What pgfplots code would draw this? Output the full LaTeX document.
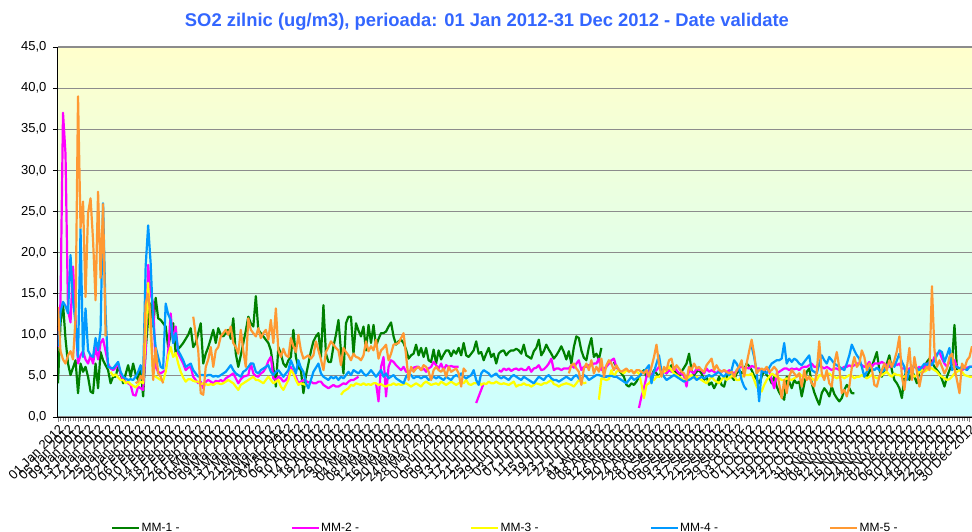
\documentclass[border=0pt]{standalone}
\usepackage{pgfplots}
\usepackage{pgfplotstable}
\pgfplotsset{compat=1.18}
\usepackage{fontspec}
\setmainfont{Liberation Sans}
\definecolor{cG}{RGB}{0,128,0}
\definecolor{cM}{RGB}{255,0,255}
\definecolor{cY}{RGB}{255,255,0}
\definecolor{cB}{RGB}{0,153,255}
\definecolor{cO}{RGB}{255,153,51}
\definecolor{ttl}{RGB}{51,102,255}
\definecolor{bgtop}{RGB}{255,255,204}
\definecolor{bgmid}{RGB}{228,255,228}
\definecolor{bgbot}{RGB}{204,255,255}
\definecolor{gridc}{RGB}{140,140,140}
\pgfplotstableread{
d g m y b o
0 4.1 8.5 nan 8.6 13.4
1 11.4 14.0 nan 12.8 8.0
2 13.8 37.0 nan 14.0 7.0
3 9.5 32.0 nan 13.5 6.5
4 6.5 13.0 nan 12.6 7.5
5 5.1 11.5 nan 19.7 8.0
6 6.0 18.3 nan 14.2 7.0
7 6.9 12.0 nan 11.4 12.0
8 2.9 6.5 nan 7.3 39.0
9 6.5 7.5 nan 22.9 23.0
10 5.5 8.0 nan 7.3 26.2
11 6.1 7.0 nan 13.2 14.6
12 4.9 6.5 nan 8.1 24.8
13 3.1 7.5 nan 7.5 26.6
14 2.9 6.5 nan 7.3 21.5
15 6.5 8.5 nan 9.6 14.2
16 3.5 7.0 nan 8.1 27.4
17 7.9 9.0 nan 10.6 16.9
18 6.9 9.5 nan 26.0 25.9
19 6.3 8.0 nan 12.6 9.8
20 5.7 6.5 nan 6.1 nan
21 4.1 5.9 5.5 6.0 nan
22 4.9 5.7 5.0 5.9 nan
23 4.9 6.0 5.2 6.3 nan
24 6.1 6.5 4.8 6.7 nan
25 5.3 5.3 4.5 5.5 nan
26 4.1 4.5 4.5 4.9 nan
27 5.2 4.3 4.1 4.7 nan
28 6.3 4.1 4.3 4.5 nan
29 4.9 3.9 4.0 4.6 nan
30 6.5 2.7 3.8 4.5 nan
31 5.2 2.6 3.6 4.9 4.1
32 4.5 3.7 3.9 5.5 4.3
33 6.1 3.5 4.3 6.3 5.0
34 2.5 3.3 4.1 4.9 4.5
35 8.1 8.0 10.0 18.3 13.8
36 12.0 18.5 16.3 23.3 15.0
37 13.8 15.0 10.0 18.7 12.0
38 11.0 13.8 5.0 11.4 4.5
39 14.5 6.1 4.9 8.5 8.4
40 12.0 5.5 4.7 7.3 5.3
41 11.8 5.3 4.5 6.1 4.9
42 11.4 5.5 4.4 5.9 4.1
43 11.0 5.7 5.5 13.8 nan
44 8.5 8.0 7.5 12.5 nan
45 10.0 12.6 8.5 11.8 nan
46 11.4 9.0 7.3 9.0 nan
47 7.7 11.0 7.8 10.2 nan
48 8.3 7.7 6.5 8.1 nan
49 8.6 7.1 5.5 7.5 nan
50 9.0 6.5 4.8 6.9 nan
51 9.5 5.7 4.3 6.1 nan
52 10.0 6.0 4.6 6.3 nan
53 10.8 6.1 4.6 6.5 nan
54 8.5 4.9 4.4 5.7 12.2
55 9.0 4.5 4.3 5.3 10.0
56 10.2 4.1 4.3 4.9 8.1
57 11.4 4.3 4.0 5.1 2.9
58 6.5 3.5 4.1 5.1 2.7
59 7.7 4.3 4.0 5.0 6.1
60 8.5 4.5 3.9 5.1 7.0
61 9.5 4.3 4.0 5.1 8.5
62 10.6 4.1 3.9 4.9 6.1
63 9.0 4.4 4.1 5.0 8.1
64 10.8 4.3 4.1 4.9 8.5
65 10.0 4.5 4.0 5.1 9.8
66 9.8 4.3 4.1 5.3 10.2
67 10.2 4.7 4.3 5.5 10.6
68 10.6 4.9 4.5 5.9 10.0
69 9.5 5.1 4.3 6.3 11.0
70 12.0 5.3 4.1 5.7 9.0
71 7.7 4.7 3.7 5.3 8.5
72 6.1 4.1 3.3 5.1 7.7
73 7.5 4.6 3.9 4.9 10.6
74 9.0 4.9 4.1 5.5 8.0
75 10.5 5.0 4.3 5.7 6.1
76 12.2 5.1 4.5 6.1 12.0
77 11.4 6.5 4.7 6.5 10.6
78 11.0 5.3 4.9 6.5 10.2
79 14.7 5.0 4.5 5.5 9.8
80 10.6 4.9 4.5 5.3 10.8
81 10.2 5.3 4.3 5.7 9.6
82 9.8 5.5 4.1 5.9 10.2
83 9.4 6.0 4.5 6.1 10.6
84 9.0 6.8 4.9 6.3 9.4
85 8.1 7.3 4.5 5.5 11.8
86 6.0 4.7 4.1 5.1 9.0
87 3.7 4.5 4.3 5.5 13.2
88 8.5 4.9 4.5 5.7 8.1
89 7.7 4.7 3.7 5.3 7.3
90 6.5 4.3 3.3 4.9 8.3
91 6.1 4.5 3.9 5.3 7.5
92 6.9 4.9 4.5 5.7 7.3
93 7.3 6.1 5.7 6.9 9.6
94 10.6 5.3 5.3 6.1 8.6
95 7.3 4.9 4.5 5.3 7.9
96 6.0 4.1 3.9 6.9 10.0
97 5.7 4.3 4.1 6.0 8.1
98 2.9 4.5 4.0 5.5 7.1
99 5.0 4.4 3.9 4.1 7.3
100 6.5 4.2 nan 3.5 7.5
101 8.0 4.3 nan 4.5 7.1
102 9.2 4.1 nan 5.5 7.5
103 9.8 4.1 nan 6.0 9.2
104 10.2 4.3 nan 6.5 8.1
105 7.3 4.3 nan 5.3 7.0
106 13.6 3.9 nan 4.9 5.7
107 7.7 3.7 nan 4.7 7.9
108 6.7 3.5 nan 4.5 8.5
109 6.7 3.7 nan 4.9 9.2
110 8.6 3.9 nan 4.7 8.8
111 10.0 3.7 nan 4.9 8.4
112 11.8 3.7 nan 4.5 8.1
113 8.0 3.9 2.7 4.9 6.3
114 5.3 4.1 3.1 4.7 8.4
115 11.4 4.0 3.3 5.1 7.9
116 12.2 4.3 3.5 5.5 7.5
117 12.2 4.5 3.9 5.1 6.9
118 7.7 4.5 3.8 5.7 7.7
119 11.4 4.7 4.1 5.5 7.3
120 10.5 4.9 4.0 5.3 7.2
121 9.8 nan 3.9 5.7 6.9
122 11.0 nan 4.1 5.3 7.5
123 8.1 nan 3.9 5.0 9.2
124 11.2 nan 4.0 5.3 8.0
125 9.0 nan 3.9 5.7 8.6
126 11.2 nan 4.1 5.3 8.1
127 8.6 4.1 4.1 4.9 9.4
128 9.5 1.9 3.9 5.3 7.1
129 10.2 6.1 4.0 5.7 8.1
130 10.2 7.3 3.8 4.9 8.4
131 10.4 2.5 3.7 5.3 8.8
132 11.0 6.1 3.9 4.7 6.9
133 11.5 6.9 3.9 4.9 7.7
134 9.8 6.7 4.1 5.1 8.8
135 8.8 6.3 3.9 4.7 8.9
136 9.2 6.0 4.0 4.5 9.0
137 9.4 5.7 3.9 4.3 9.6
138 9.0 6.1 4.0 4.1 10.2
139 8.2 5.5 4.1 4.9 7.5
140 7.1 5.5 3.9 5.3 4.5
141 7.5 5.7 3.7 5.1 6.1
142 7.7 6.0 3.9 4.7 5.5
143 8.8 6.1 4.1 4.9 5.9
144 7.5 6.1 3.9 4.9 6.1
145 8.4 5.7 3.7 4.7 5.7
146 7.3 5.9 4.1 4.9 6.3
147 8.4 5.5 4.3 4.9 6.1
148 6.9 5.9 4.1 4.5 5.5
149 6.7 6.1 3.9 4.7 4.5
150 8.2 6.7 4.0 4.9 5.7
151 6.5 6.3 4.1 4.7 6.1
152 8.1 5.9 3.9 4.9 5.7
153 7.0 6.5 4.3 4.7 5.5
154 7.6 5.7 4.1 4.5 5.9
155 8.1 6.3 3.9 4.9 4.9
156 8.1 6.1 4.1 4.7 6.1
157 7.4 6.2 4.3 4.5 5.5
158 8.1 6.1 4.1 4.9 5.7
159 7.7 6.1 3.9 5.1 5.9
160 8.4 6.1 4.1 4.9 5.3
161 7.5 nan 4.3 5.3 3.7
162 9.0 nan 4.1 4.9 5.9
163 7.5 nan 4.5 4.7 5.5
164 7.3 nan 4.0 4.9 nan
165 7.7 nan 3.9 5.1 nan
166 8.1 nan 4.1 5.7 nan
167 9.2 1.7 4.1 4.5 nan
168 7.7 2.5 4.3 3.9 nan
169 7.9 3.3 3.9 5.3 nan
170 6.9 4.1 4.1 5.7 nan
171 7.7 nan 4.0 5.5 nan
172 8.4 nan 4.3 5.3 nan
173 7.3 nan 4.1 4.9 nan
174 7.7 nan 4.1 5.1 nan
175 6.5 nan 4.3 5.3 nan
176 7.7 5.7 4.1 4.9 nan
177 8.0 5.5 4.0 4.7 nan
178 8.1 5.9 4.1 4.9 nan
179 7.5 5.7 4.0 4.7 nan
180 7.9 5.9 3.9 4.5 nan
181 8.1 5.6 4.1 4.9 nan
182 8.1 5.8 4.3 5.1 nan
183 8.3 5.9 3.7 4.9 nan
184 8.1 5.7 3.9 4.7 nan
185 7.7 5.9 3.9 4.5 nan
186 8.8 5.7 4.1 4.9 nan
187 7.5 5.7 3.9 4.7 nan
188 7.3 6.1 3.9 4.5 nan
189 7.1 5.5 3.7 4.3 nan
190 8.0 5.9 3.9 4.1 nan
191 8.4 6.0 4.1 4.5 nan
192 9.4 6.3 4.0 4.9 nan
193 7.5 5.7 3.9 4.7 nan
194 8.0 5.8 4.1 4.5 nan
195 8.8 6.1 4.1 4.9 nan
196 8.2 6.5 4.3 5.1 nan
197 7.7 7.1 4.5 4.7 nan
198 7.1 5.7 4.0 4.5 nan
199 7.5 5.9 3.9 4.5 nan
200 8.0 5.9 3.7 4.3 nan
201 8.6 5.7 3.9 4.5 nan
202 7.9 5.9 4.0 4.7 nan
203 7.0 5.9 4.1 4.9 nan
204 8.0 5.9 4.0 4.7 5.3
205 6.5 6.3 3.9 4.5 6.3
206 8.5 6.0 3.7 4.9 6.5
207 9.8 6.5 4.1 5.1 5.9
208 9.6 6.9 4.5 4.7 5.5
209 8.1 5.7 4.3 4.5 3.9
210 7.2 6.1 4.1 5.1 5.9
211 6.9 6.1 4.2 4.9 6.5
212 8.5 6.3 nan 4.5 5.7
213 9.6 6.3 nan 4.7 6.9
214 7.3 6.5 nan 4.9 5.3
215 7.7 6.5 nan 5.1 6.1
216 7.0 7.1 2.1 5.1 5.5
217 8.4 5.7 4.7 5.0 7.1
218 nan 5.9 4.6 4.9 4.9
219 nan 6.1 4.5 4.9 6.3
220 nan 6.5 4.6 5.0 6.9
221 nan 6.9 5.7 5.0 6.5
222 6.7 7.1 4.9 4.9 5.7
223 6.1 6.1 5.5 4.9 6.3
224 5.7 5.7 5.7 4.7 5.7
225 5.3 nan 5.5 4.5 5.5
226 4.9 nan 5.3 4.3 5.7
227 3.9 nan 5.7 4.1 5.9
228 3.7 nan 5.5 4.5 5.5
229 4.1 nan 5.7 4.9 5.7
230 3.9 nan 5.3 4.5 5.3
231 4.3 nan 5.5 4.7 5.7
232 4.9 1.1 5.3 4.9 5.7
233 5.3 2.5 4.0 5.3 5.5
234 5.7 3.5 2.3 5.5 5.3
235 4.9 4.9 3.9 5.9 5.7
236 5.3 5.7 4.1 6.3 4.9
237 4.9 4.9 4.5 4.1 6.1
238 5.7 5.5 4.5 5.5 7.3
239 5.3 5.7 4.9 6.5 8.8
240 4.9 6.1 4.9 7.5 6.5
241 5.5 5.7 5.1 5.5 4.9
242 5.7 5.5 5.5 4.9 6.1
243 5.3 5.3 5.7 4.5 5.7
244 5.9 5.7 6.1 4.7 6.9
245 6.3 5.5 5.7 4.9 7.1
246 5.7 6.1 5.3 5.1 5.7
247 5.3 5.7 5.1 4.9 6.3
248 4.9 5.3 4.9 4.7 5.9
249 5.5 5.3 4.7 4.5 5.5
250 6.0 5.0 4.5 4.3 5.3
251 6.5 3.7 4.5 4.5 4.5
252 7.7 5.7 4.9 4.5 6.1
253 5.7 5.5 5.1 4.7 5.7
254 5.1 5.3 4.7 4.9 6.5
255 5.5 5.9 4.9 4.5 5.9
256 5.7 5.7 4.7 4.7 6.1
257 5.3 5.7 4.5 4.9 5.7
258 4.5 5.3 4.3 4.7 5.5
259 4.9 5.9 4.1 4.9 6.3
260 3.9 5.5 4.5 5.1 6.7
261 4.2 5.7 4.9 4.9 7.1
262 3.5 5.5 4.5 5.1 5.7
263 4.1 5.3 4.3 5.3 6.3
264 4.9 5.7 4.1 5.5 5.7
265 3.9 5.5 4.5 5.1 5.5
266 3.7 5.7 4.9 4.9 5.7
267 4.9 5.4 4.5 5.3 5.5
268 5.3 5.7 4.7 5.1 5.3
269 4.9 5.5 5.0 5.7 5.5
270 4.5 5.3 4.9 6.9 4.9
271 5.3 5.6 4.5 6.5 5.7
272 5.7 6.0 4.5 5.9 6.1
273 5.3 6.1 4.9 4.5 6.9
274 5.7 5.9 5.1 3.7 4.9
275 6.5 6.0 5.1 3.3 6.5
276 6.2 5.9 5.1 nan 8.0
277 5.7 6.2 5.3 8.6 9.4
278 5.0 6.1 4.5 7.3 7.7
279 4.6 5.9 3.7 5.5 5.3
280 4.1 5.9 3.3 1.9 5.7
281 4.9 5.7 3.1 5.7 5.9
282 5.7 5.7 3.9 5.5 5.7
283 5.1 5.9 4.5 5.3 6.1
284 4.8 5.7 4.9 6.0 5.5
285 4.1 4.5 5.3 6.5 5.7
286 4.9 3.5 5.1 6.7 6.1
287 3.7 5.3 4.9 6.9 5.7
288 3.0 5.5 4.7 6.9 4.0
289 2.5 5.7 4.5 7.1 2.3
290 2.1 5.9 4.5 9.0 4.5
291 4.9 5.9 4.7 6.5 2.9
292 4.3 5.7 4.6 7.1 4.9
293 3.5 5.9 4.5 6.7 5.7
294 4.5 5.8 4.7 7.1 5.3
295 4.1 5.9 4.9 6.9 4.9
296 4.3 5.7 5.3 6.5 5.3
297 2.5 6.0 5.0 6.3 3.7
298 4.0 6.1 4.9 6.7 5.7
299 5.5 6.1 4.7 7.1 4.5
300 5.9 6.3 4.9 7.5 4.9
301 4.1 6.5 4.7 5.7 4.1
302 3.0 6.1 4.5 5.5 3.7
303 2.2 6.1 4.5 5.3 5.5
304 1.5 6.3 5.1 6.5 9.2
305 2.9 6.1 5.0 7.5 5.3
306 3.5 5.9 4.9 6.9 4.5
307 3.1 6.1 5.1 6.5 5.7
308 2.5 5.9 5.3 7.3 4.1
309 3.7 5.7 5.0 6.9 3.7
310 2.8 5.9 4.9 6.5 6.5
311 2.3 5.9 4.7 6.3 7.9
312 1.9 5.7 4.9 6.1 6.0
313 2.3 5.9 4.9 5.9 2.9
314 3.3 6.1 4.7 5.7 3.3
315 3.9 6.1 4.9 6.5 2.5
316 3.5 6.3 5.1 7.5 3.7
317 2.9 6.1 5.0 8.8 6.0
318 2.9 6.3 4.7 8.1 7.3
319 nan 6.5 4.9 7.5 6.1
320 nan 6.5 4.9 7.1 6.5
321 nan 6.3 5.1 6.1 8.1
322 nan 6.1 4.9 4.9 7.3
323 4.9 6.3 4.7 5.5 5.7
324 5.5 6.7 4.9 6.1 6.5
325 6.1 6.1 5.1 5.9 5.9
326 7.0 6.5 4.9 5.7 3.9
327 7.9 6.5 4.7 6.0 3.7
328 5.7 6.5 4.9 5.7 4.9
329 4.9 6.7 5.1 5.5 5.7
330 5.7 6.5 5.3 5.7 6.5
331 6.5 6.3 5.5 6.1 5.7
332 7.5 6.1 5.1 6.3 6.9
333 5.7 6.3 4.9 6.5 6.1
334 4.5 6.5 5.3 6.1 6.9
335 4.1 6.3 5.1 6.9 8.0
336 3.5 6.5 5.1 7.7 9.8
337 2.3 5.9 4.9 6.7 4.9
338 4.9 5.9 4.9 6.1 3.3
339 5.7 5.7 5.1 4.5 6.0
340 4.5 5.9 5.3 5.7 8.4
341 5.7 6.1 5.3 5.9 4.5
342 4.9 6.1 4.9 6.3 7.3
343 4.1 5.9 5.1 5.9 5.5
344 5.5 6.1 5.5 5.7 3.7
345 5.7 5.9 5.7 6.1 5.3
346 6.1 6.1 5.5 6.5 5.7
347 6.7 6.5 5.7 6.3 6.1
348 7.1 6.1 6.1 6.7 5.7
349 6.7 6.5 5.9 6.3 15.9
350 6.1 7.3 5.7 6.9 8.1
351 5.7 7.7 5.5 7.5 6.1
352 5.3 7.9 5.1 8.1 6.9
353 4.6 7.1 4.9 7.9 6.1
354 3.7 6.5 4.7 6.7 5.3
355 4.9 6.1 4.5 7.5 5.9
356 5.7 6.7 4.6 8.4 7.3
357 6.5 6.5 4.9 5.7 7.7
358 11.2 6.9 5.3 6.1 5.9
359 5.7 6.1 5.5 6.1 4.5
360 nan 5.9 5.7 5.9 2.9
361 nan 5.7 5.5 6.1 6.5
362 nan 5.9 5.1 5.9 5.9
363 nan 6.0 5.0 5.7 6.9
364 nan 6.1 4.9 6.1 7.3
365 nan 6.1 4.9 6.1 8.6
}\data
\begin{document}
\begin{tikzpicture}
\useasboundingbox (0,0) rectangle (972pt,531pt);
\node[font=\fontsize{18.4}{22}\selectfont\bfseries, text=ttl] at (487pt,509pt) {SO2 zilnic (ug/m3), perioada: 01 Jan 2012-31 Dec 2012 - Date validate};
\begin{axis}[
  at={(58pt,114pt)}, anchor=south west,
  scale only axis, width=914pt, height=370pt,
  xmin=0, xmax=365, ymin=0, ymax=45,
  axis background/.style={shade, top color=bgtop, middle color=bgmid, bottom color=bgbot},
  axis x line*=bottom, axis y line*=left,
  axis line style={-, black, line width=1pt},
  tick align=outside,
  ytick={0,5,...,45},
  yticklabels={{0,0},{5,0},{10,0},{15,0},{20,0},{25,0},{30,0},{35,0},{40,0},{45,0}},
  yticklabel style={font=\fontsize{13}{13}\selectfont, xshift=-3pt},
  ytick style={black, line width=0.8pt},
  ymajorgrids, grid style={gridc, line width=1.2pt},
  xtick={0,4,...,364},
  minor x tick num=3,
  xtick style={gray, line width=0.6pt},
  major tick length=5pt, minor tick length=4pt,
  xticklabels={01 Jan 2012,05 Jan 2012,09 Jan 2012,13 Jan 2012,17 Jan 2012,21 Jan 2012,25 Jan 2012,29 Jan 2012,02 Feb 2012,06 Feb 2012,10 Feb 2012,14 Feb 2012,18 Feb 2012,22 Feb 2012,26 Feb 2012,01 Mar 2012,05 Mar 2012,09 Mar 2012,13 Mar 2012,17 Mar 2012,21 Mar 2012,25 Mar 2012,29 Mar 2012,02 Apr 2012,06 Apr 2012,10 Apr 2012,14 Apr 2012,18 Apr 2012,22 Apr 2012,26 Apr 2012,30 Apr 2012,04 May 2012,08 May 2012,12 May 2012,16 May 2012,20 May 2012,24 May 2012,28 May 2012,01 Jun 2012,05 Jun 2012,09 Jun 2012,13 Jun 2012,17 Jun 2012,21 Jun 2012,25 Jun 2012,29 Jun 2012,03 Jul 2012,07 Jul 2012,11 Jul 2012,15 Jul 2012,19 Jul 2012,23 Jul 2012,27 Jul 2012,31 Jul 2012,04 Aug 2012,08 Aug 2012,12 Aug 2012,16 Aug 2012,20 Aug 2012,24 Aug 2012,28 Aug 2012,01 Sep 2012,05 Sep 2012,09 Sep 2012,13 Sep 2012,17 Sep 2012,21 Sep 2012,25 Sep 2012,29 Sep 2012,03 Oct 2012,07 Oct 2012,11 Oct 2012,15 Oct 2012,19 Oct 2012,23 Oct 2012,27 Oct 2012,31 Oct 2012,04 Nov 2012,08 Nov 2012,12 Nov 2012,16 Nov 2012,20 Nov 2012,24 Nov 2012,28 Nov 2012,02 Dec 2012,06 Dec 2012,10 Dec 2012,14 Dec 2012,18 Dec 2012,22 Dec 2012,26 Dec 2012,30 Dec 2012},
  xticklabel style={font=\fontsize{13}{13}\selectfont, rotate=45, anchor=east, inner sep=1pt, yshift=-6pt},
  unbounded coords=jump,
  no markers,
  every axis plot/.append style={line width=2.2pt, line join=round},
  legend columns=5,
  legend style={at={(0.0580,-0.3)}, anchor=west, draw=none, fill=none, inner sep=0pt,
    font=\fontsize{12}{12}\selectfont, nodes={inner sep=0pt},
    /tikz/every odd column/.append style={column sep=1pt},
    /tikz/every even column/.append style={column sep=111pt}},
  legend image code/.code={\draw[#1, line width=2.5pt] (0pt,0pt) -- (27pt,0pt);},
]
\addplot[cG] table[x=d, y=g]{\data};
\addplot[cM] table[x=d, y=m]{\data};
\addplot[cY] table[x=d, y=y]{\data};
\addplot[cB] table[x=d, y=b]{\data};
\addplot[cO] table[x=d, y=o]{\data};
\legend{MM-1 -, MM-2 -, MM-3 -, MM-4 -, MM-5 -}
\end{axis}
\end{tikzpicture}
\end{document}
